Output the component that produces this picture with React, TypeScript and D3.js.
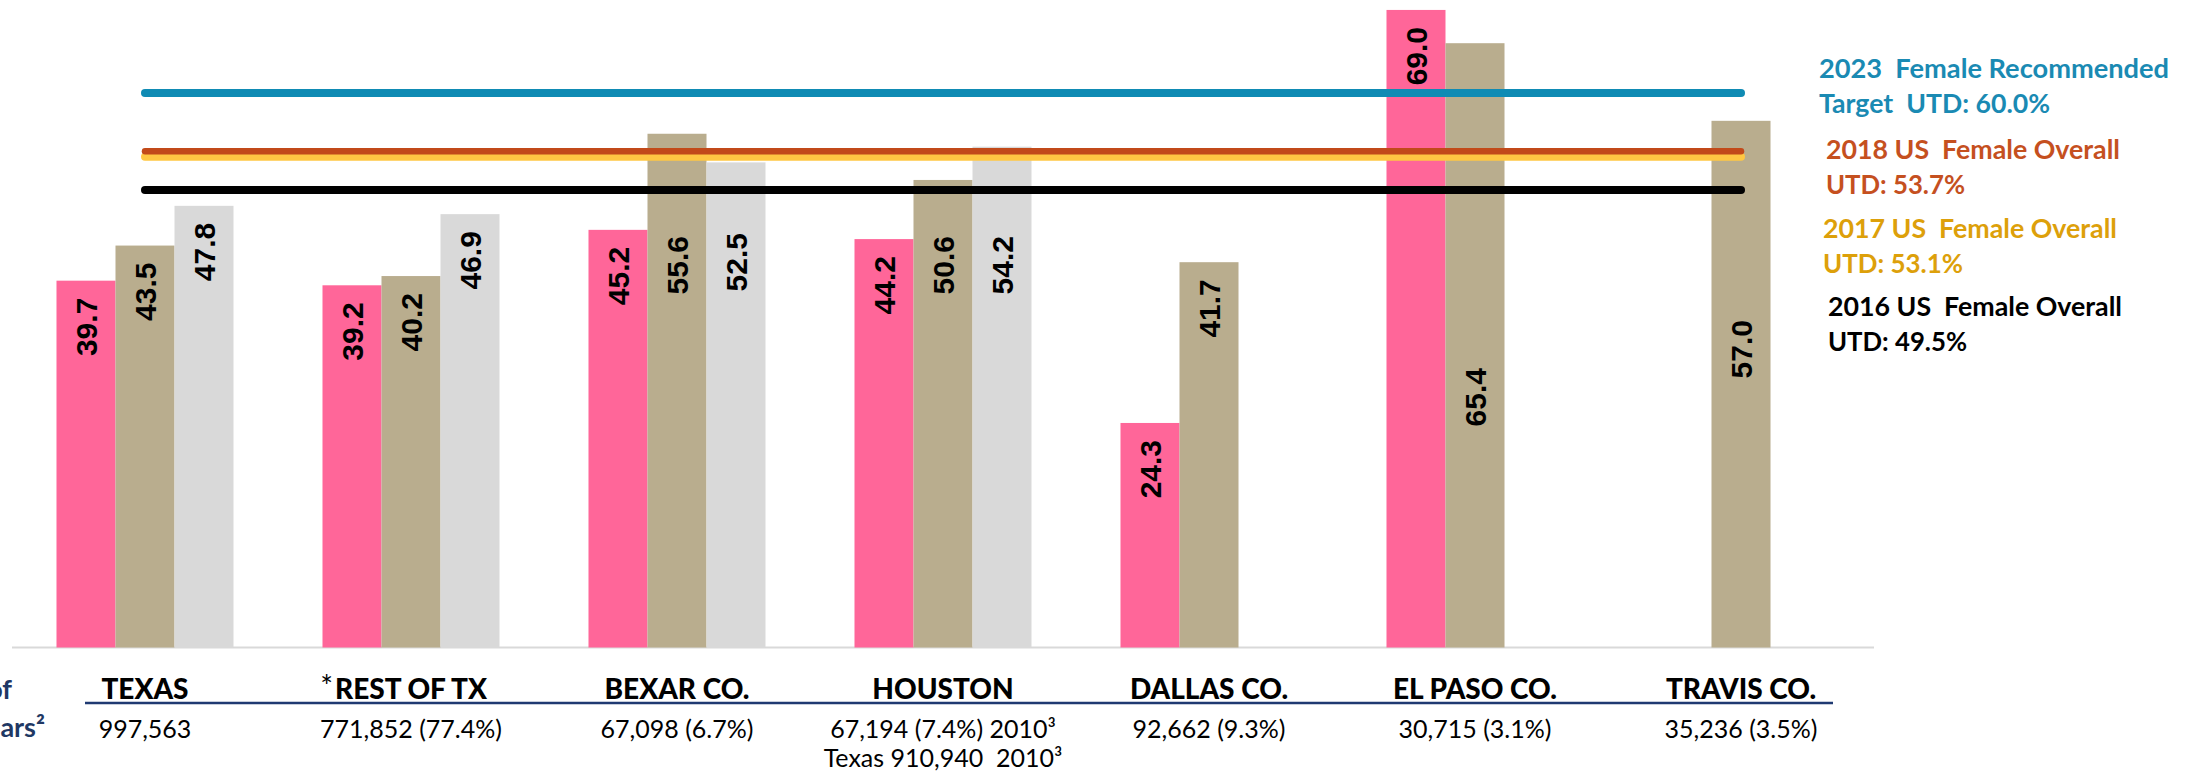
import React from "react";
import * as d3 from "d3";

const WIDTH = 2205;
const HEIGHT = 780;
const PLOT = { left: 12, right: 1874, base: 647.5, top: 0.7 };

const categories = [
  "TEXAS",
  "REST OF TX",
  "BEXAR CO.",
  "HOUSTON",
  "DALLAS CO.",
  "EL PASO CO.",
  "TRAVIS CO.",
];
const seriesKeys = ["2016", "2017", "2018"];
const pinkValues = [39.7, 39.2, 45.2, 44.2, 24.3, 69.0, null];
const tanValues = [43.5, 40.2, 55.6, 50.6, 41.7, 65.4, 57.0];
const greyValues = [47.8, 46.9, 52.5, 54.2, null, null, null];
const populationLines = [
  ["997,563"],
  ["771,852 (77.4%)"],
  ["67,098 (6.7%)"],
  ["67,194 (7.4%) 2010³", "Texas 910,940  2010³"],
  ["92,662 (9.3%)"],
  ["30,715 (3.1%)"],
  ["35,236 (3.5%)"],
];
const refValues = [60.0, 53.7, 53.1, 49.5];
const refTitles = [
  "2023  Female Recommended",
  "2018 US  Female Overall",
  "2017 US  Female Overall",
  "2016 US  Female Overall",
];
const refSubtitles = ["Target  UTD: 60.0%", "UTD: 53.7%", "UTD: 53.1%", "UTD: 49.5%"];

const BAR_COLORS = ["#FF6699", "#B9AD8E", "#D9D9D9"];
const REF_COLORS = ["#0F8BB4", "#C24A1A", "#FFC743", "#000000"];
const REF_TEXT_COLORS = ["#1A8AB3", "#C5501F", "#DDA00A", "#000000"];
const REF_WIDTHS = [8, 6.5, 8, 8];
const REF_DRAW_ORDER = [0, 2, 1, 3];

// legend block layout: x, first baseline, title width, subtitle width
const LEGEND = [
  { x: 1819, y: 78, w1: 350, w2: 231 },
  { x: 1826, y: 159, w1: 294, w2: 139 },
  { x: 1823, y: 238, w1: 294, w2: 140 },
  { x: 1828, y: 316, w1: 294, w2: 139 },
];

// hand-placed data labels in the original (moved under the target lines)
const LABEL_TOP: Record<string, number> = {
  "BEXAR CO.|2017": 236,
  "BEXAR CO.|2018": 233,
  "HOUSTON|2017": 236,
  "HOUSTON|2018": 236,
  "EL PASO CO.|2017": 368,
  "TRAVIS CO.|2017": 320,
};

const CAL = "Lato, 'Open Sans', sans-serif";
const LABEL_FONT = "'Liberation Sans', Arial, sans-serif";

const App = () => {
  const svgRef = React.useRef<SVGSVGElement>(null);

  React.useEffect(() => {
    document.body.style.margin = "0";
    const svg = d3.select(svgRef.current!);
    svg.selectAll("*").remove();

    const x0 = d3
      .scaleBand<string>()
      .domain(categories)
      .range([PLOT.left, PLOT.right])
      .paddingInner(0)
      .paddingOuter(0);

    const x1 = d3
      .scaleBand<string>()
      .domain(seriesKeys)
      .range([0, x0.bandwidth()])
      .paddingInner(0)
      .paddingOuter(0.754);

    const y = d3.scaleLinear().domain([0, 70]).range([PLOT.base, PLOT.top]);

    const series = [pinkValues, tanValues, greyValues];
    const records = categories
      .flatMap((cat, i) => seriesKeys.map((key, s) => ({ cat, key, s, value: series[s][i] })))
      .filter((d) => d.value != null) as { cat: string; key: string; s: number; value: number }[];

    // axis line
    svg
      .append("line")
      .attr("x1", PLOT.left)
      .attr("x2", PLOT.right)
      .attr("y1", y(0))
      .attr("y2", y(0))
      .attr("stroke", "#D9D9D9")
      .attr("stroke-width", 2);

    const bars = svg.append("g").attr("class", "bars");
    bars
      .selectAll("rect")
      .data(records)
      .enter()
      .append("rect")
      .attr("x", (d) => x0(d.cat)! + x1(d.key)!)
      .attr("y", (d) => y(d.value))
      .attr("width", x1.bandwidth())
      .attr("height", (d) => y(0) - y(d.value))
      .attr("fill", (d) => BAR_COLORS[d.s]);

    bars
      .selectAll("text")
      .data(records)
      .enter()
      .append("text")
      .attr("transform", (d) => {
        const cx = x0(d.cat)! + x1(d.key)! + x1.bandwidth() / 2;
        const top = LABEL_TOP[`${d.cat}|${d.key}`] ?? y(d.value) + 17;
        return `translate(${cx},${top}) rotate(-90)`;
      })
      .attr("dy", "0.36em")
      .attr("text-anchor", "end")
      .attr("font-family", LABEL_FONT)
      .attr("font-weight", "bold")
      .attr("font-size", 30)
      .attr("fill", "#000")
      .text((d) => d.value.toFixed(1));

    // reference lines
    const first = x0(categories[0])! + x0.bandwidth() / 2;
    const last = x0(categories[categories.length - 1])! + x0.bandwidth() / 2;
    svg
      .append("g")
      .selectAll("line")
      .data(REF_DRAW_ORDER)
      .enter()
      .append("line")
      .attr("x1", first)
      .attr("x2", last)
      .attr("y1", (i) => y(refValues[i]))
      .attr("y2", (i) => y(refValues[i]))
      .attr("stroke", (i) => REF_COLORS[i])
      .attr("stroke-width", (i) => REF_WIDTHS[i])
      .attr("stroke-linecap", "round");

    // legend texts
    const legend = svg
      .append("g")
      .attr("font-family", CAL)
      .attr("font-weight", "bold")
      .attr("font-size", 26);
    refTitles.forEach((title, i) => {
      const b = LEGEND[i];
      legend
        .append("text")
        .attr("x", b.x)
        .attr("y", b.y)
        .attr("fill", REF_TEXT_COLORS[i])
        .attr("textLength", b.w1)
        .attr("lengthAdjust", "spacingAndGlyphs")
        .style("white-space", "pre")
        .text(title);
      legend
        .append("text")
        .attr("x", b.x)
        .attr("y", b.y + 35)
        .attr("fill", REF_TEXT_COLORS[i])
        .attr("textLength", b.w2)
        .attr("lengthAdjust", "spacingAndGlyphs")
        .style("white-space", "pre")
        .text(refSubtitles[i]);
    });

    // category table
    const table = svg.append("g").attr("font-family", CAL);
    table
      .append("line")
      .attr("x1", 85)
      .attr("x2", 1833)
      .attr("y1", 703)
      .attr("y2", 703)
      .attr("stroke", "#1F3A72")
      .attr("stroke-width", 2.5);

    table
      .selectAll("text.cat")
      .data(categories)
      .enter()
      .append("text")
      .attr("class", "cat")
      .attr("x", (d) => x0(d)! + x0.bandwidth() / 2)
      .attr("y", 699)
      .attr("text-anchor", "middle")
      .attr("font-weight", 900)
      .attr("font-size", 28)
      .attr("fill", "#000")
      .text((d) => d);

    table
      .append("text")
      .attr("x", 333)
      .attr("y", 697)
      .attr("text-anchor", "end")
      .attr("font-size", 30)
      .attr("fill", "#000")
      .text("*");

    populationLines.forEach((lines, i) => {
      lines.forEach((line, j) => {
        table
          .append("text")
          .attr("x", x0(categories[i])! + x0.bandwidth() / 2)
          .attr("y", 738 + j * 29)
          .attr("text-anchor", "middle")
          .attr("font-size", 25)
          .attr("fill", "#000")
          .style("white-space", "pre")
          .text(line);
      });
    });

    // row header, cut off at the left edge as in the original slide
    const header = svg
      .append("g")
      .attr("font-family", CAL)
      .attr("font-weight", "bold")
      .attr("font-size", 27)
      .attr("fill", "#1F3864")
      .attr("text-anchor", "end");
    header.append("text").attr("x", 12).attr("y", 699).text("of");
    header.append("text").attr("x", 45).attr("y", 737).text("ars²");
  }, []);

  return (
    <svg
      ref={svgRef}
      width={WIDTH}
      height={HEIGHT}
      style={{ position: "absolute", left: 0, top: 0, background: "#fff" }}
    />
  );
};

export default App;
